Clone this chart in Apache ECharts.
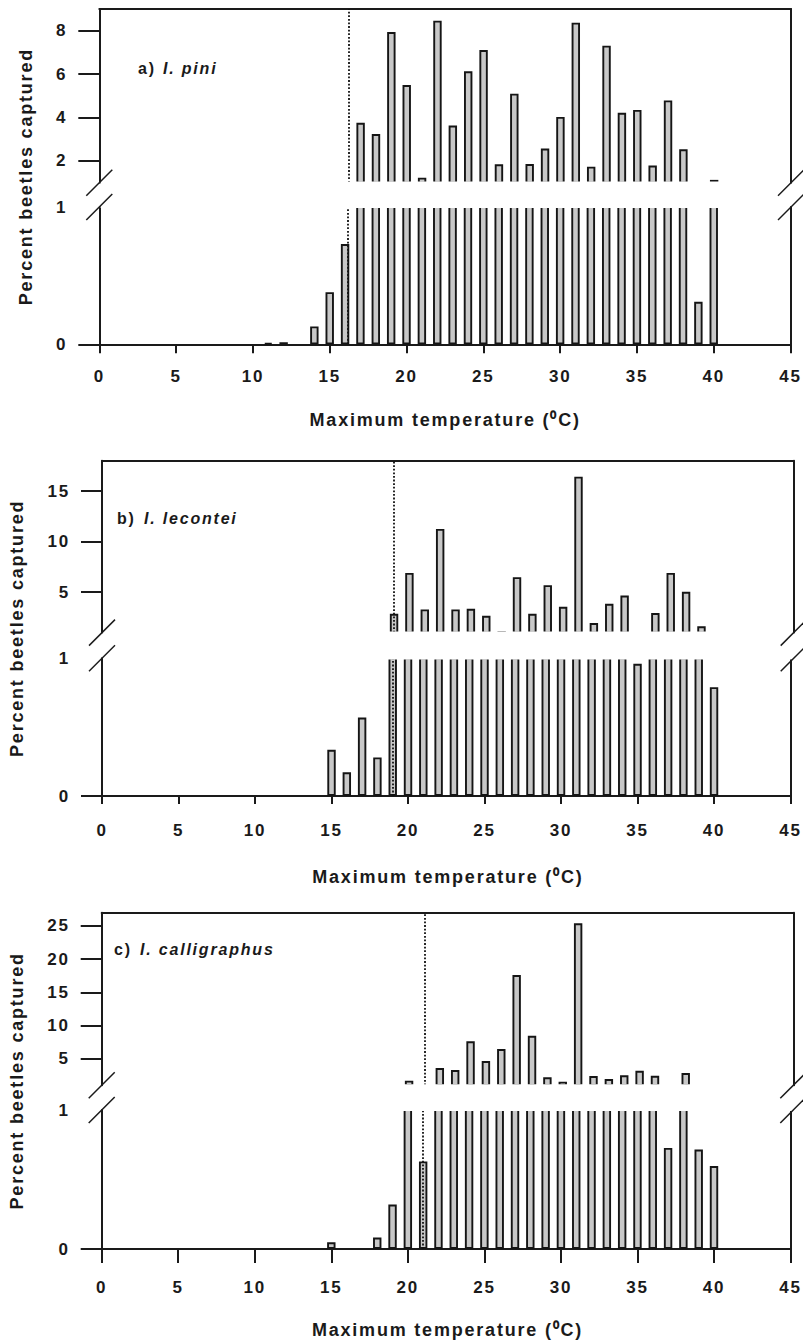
<!DOCTYPE html>
<html>
<head>
<meta charset="utf-8">
<title>Percent beetles captured by maximum temperature</title>
<script src="https://cdn.jsdelivr.net/npm/echarts@6.0.0/dist/echarts.min.js"></script>
<style>
  html, body { margin: 0; padding: 0; background: #fff; }
  #chart { width: 803px; height: 1344px; }
  /* the original figure uses widely spaced Helvetica-like lettering */
  #chart text { letter-spacing: 1.8px; }
</style>
</head>
<body>
<div id="chart"></div>
<script>
// maximum temperature classes (deg C), one bar per class
const temps = [11, 12, 13, 14, 15, 16, 17, 18, 19, 20,
               21, 22, 23, 24, 25, 26, 27, 28, 29, 30,
               31, 32, 33, 34, 35, 36, 37, 38, 39, 40];

// percent of beetles captured per class
const piniPercent = [0.01, 0.015, 0, 0.13, 0.38, 0.73, 3.76, 3.24, 7.94, 5.5,
                     1.23, 8.46, 3.63, 6.13, 7.11, 1.85, 5.1, 1.86, 2.57, 4.03,
                     8.37, 1.74, 7.31, 4.22, 4.35, 1.79, 4.79, 2.54, 0.31, 1.13];
const leconteiPercent = [0, 0, 0, 0, 0.335, 0.172, 0.57, 0.28, 2.86, 6.9,
                         3.29, 11.25, 3.29, 3.35, 2.66, 1.12, 6.48, 2.86, 5.69, 3.55,
                         16.42, 1.94, 3.85, 4.67, 0.96, 2.93, 6.9, 5.03, 1.62, 0.79];
const calligraphusPercent = [0, 0, 0, 0, 0.048, 0, 0, 0.082, 0.32, 1.69,
                             0.63, 3.6, 3.3, 7.62, 4.65, 6.46, 17.6, 8.46, 2.2, 1.54,
                             25.4, 2.4, 1.94, 2.5, 3.19, 2.44, 0.727, 2.85, 0.715, 0.597];

// flight threshold temperature (dotted line)
const thresholds = [16.2, 19, 21];

// axis ticks
const lowerTicks = [0, 1];
const piniUpperTicks = [2, 4, 6, 8];
const leconteiUpperTicks = [5, 10, 15];
const calligraphusUpperTicks = [5, 10, 15, 20, 25];
const upperMax = [9, 18, 27];

const panelTags = ['a)', 'b)', 'c)'];
const speciesNames = ['I. pini', 'I. lecontei', 'I. calligraphus'];
const xTitle = 'Maximum temperature (\u2070C)';
const yTitle = 'Percent beetles captured';

const seriesValues = [piniPercent, leconteiPercent, calligraphusPercent];
const upperTicks = [piniUpperTicks, leconteiUpperTicks, calligraphusUpperTicks];

// page layout of each panel (pixels)
const panels = [
  { left: 99.3, right: 791, upperTop: 9, upperBottom: 182.7, lowerTop: 207, lowerBottom: 344.3,
    xTickLen: 9, xLabelGap: 24, xTitleY: 420, yTitleX: 26, tagX: 138, tagY: 68, speciesDx: 25 },
  { left: 102, right: 793.7, upperTop: 460.7, upperBottom: 632.6, lowerTop: 658.3, lowerBottom: 796,
    xTickLen: 8, xLabelGap: 25.5, xTitleY: 876.5, yTitleX: 17, tagX: 117, tagY: 518, speciesDx: 27 },
  { left: 101.7, right: 793.3, upperTop: 912.7, upperBottom: 1085.3, lowerTop: 1110, lowerBottom: 1249,
    xTickLen: 14, xLabelGap: 29.5, xTitleY: 1330, yTitleX: 17, tagX: 114, tagY: 949, speciesDx: 26 }
];

const ink = '#1a1a1a';
const fontFamily = "'Liberation Sans', Arial, sans-serif";
const axisLine = { onZero: false, lineStyle: { color: ink, width: 2 } };
const tickLine = { color: ink, width: 2 };
const tickLabel = { color: ink, fontSize: 17, fontWeight: 'bold', fontFamily: fontFamily };
const barStyle = { color: '#c8c8c8', borderColor: '#151515', borderWidth: 1.9 };

const chart = echarts.init(document.getElementById('chart'), null, { renderer: 'svg' });

const grid = [], xAxis = [], yAxis = [], series = [], graphic = [];

function frameAxis(gridIndex, position) {
  return {
    type: 'value', gridIndex: gridIndex, position: position,
    axisLine: axisLine, axisTick: { show: false }, axisLabel: { show: false },
    splitLine: { show: false }
  };
}

function thresholdLine(t) {
  return {
    symbol: 'none', silent: true, label: { show: false },
    lineStyle: { color: '#111', width: 1.8, type: [1.8, 1.8] },
    data: [{ xAxis: t }]
  };
}

panels.forEach(function (p, i) {
  const width = p.right - p.left;
  const up = 2 * i, low = 2 * i + 1;
  const values = seriesValues[i];

  grid.push({ left: p.left, top: p.upperTop, width: width, height: p.upperBottom - p.upperTop });
  grid.push({ left: p.left, top: p.lowerTop, width: width, height: p.lowerBottom - p.lowerTop });

  // top frame line of upper part
  xAxis.push(Object.assign(frameAxis(up, 'top'), { min: 0, max: 45, interval: 5 }));
  // temperature axis
  xAxis.push({
    type: 'value', gridIndex: low, position: 'bottom', min: 0, max: 45, interval: 5,
    axisLine: axisLine,
    axisTick: { length: p.xTickLen, lineStyle: tickLine },
    axisLabel: Object.assign({ margin: p.xLabelGap }, tickLabel),
    splitLine: { show: false }
  });

  // upper part: 1 .. max
  yAxis.push({
    type: 'value', gridIndex: up, position: 'left', min: 1, max: upperMax[i],
    axisLine: axisLine,
    axisTick: { show: true, length: 21, customValues: upperTicks[i], lineStyle: tickLine },
    axisLabel: Object.assign({ margin: 32, customValues: upperTicks[i] }, tickLabel),
    splitLine: { show: false }
  });
  yAxis.push(Object.assign(frameAxis(up, 'right'), { min: 1, max: upperMax[i] }));
  // lower part: 0 .. 1
  yAxis.push({
    type: 'value', gridIndex: low, position: 'left', min: 0, max: 1, interval: 1,
    axisLine: axisLine,
    axisTick: { show: true, length: 21, customValues: [lowerTicks[0]], lineStyle: tickLine },
    axisLabel: Object.assign({ margin: 32, customValues: lowerTicks }, tickLabel),
    splitLine: { show: false }
  });
  yAxis.push(Object.assign(frameAxis(low, 'right'), { min: 0, max: 1 }));

  const upperData = [], lowerData = [];
  temps.forEach(function (t, k) {
    if (values[k] > 1) upperData.push([t, values[k]]);
    if (values[k] > 0) lowerData.push([t, values[k]]);
  });

  series.push({
    type: 'bar', xAxisIndex: up, yAxisIndex: 4 * i, data: upperData,
    barWidth: 8.4, clip: true, silent: true, itemStyle: barStyle,
    markLine: thresholdLine(thresholds[i])
  });
  series.push({
    type: 'bar', xAxisIndex: low, yAxisIndex: 4 * i + 2, data: lowerData,
    barWidth: 8.4, clip: true, silent: true, itemStyle: barStyle,
    markLine: thresholdLine(thresholds[i])
  });

  // white band of the axis break, hiding the cut ends of the bars
  graphic.push({
    type: 'rect', z: 50, silent: true,
    shape: { x: p.left + 1.3, y: p.upperBottom - 1.1, width: width - 2.6, height: p.lowerTop - p.upperBottom + 2.2 },
    style: { fill: '#fff' }
  });
  // break marks on both vertical axes
  [p.left, p.right].forEach(function (x) {
    [p.upperBottom, p.lowerTop].forEach(function (y) {
      graphic.push({
        type: 'line', z: 51, silent: true,
        shape: { x1: x - 13, y1: y + 13, x2: x + 13, y2: y - 13 },
        style: { stroke: ink, lineWidth: 1.5 }
      });
    });
  });

  graphic.push({
    type: 'text', z: 51, silent: true, x: (p.left + p.right) / 2, y: p.xTitleY,
    style: { text: xTitle, fill: ink, fontSize: 18, fontWeight: 'bold', fontFamily: fontFamily,
             align: 'center', verticalAlign: 'middle', textAlign: 'center', textVerticalAlign: 'middle' }
  });
  graphic.push({
    type: 'text', z: 51, silent: true, x: p.yTitleX, y: (p.upperTop + p.lowerBottom) / 2,
    rotation: Math.PI / 2,
    style: { text: yTitle, fill: ink, fontSize: 18, fontWeight: 'bold', fontFamily: fontFamily,
             align: 'center', verticalAlign: 'middle', textAlign: 'center', textVerticalAlign: 'middle' }
  });
  graphic.push({
    type: 'text', z: 51, silent: true, x: p.tagX, y: p.tagY,
    style: { text: panelTags[i], fill: ink, fontSize: 16, fontWeight: 'bold', fontFamily: fontFamily,
             align: 'left', verticalAlign: 'middle', textAlign: 'left', textVerticalAlign: 'middle' }
  });
  graphic.push({
    type: 'text', z: 51, silent: true, x: p.tagX + p.speciesDx, y: p.tagY,
    style: { text: speciesNames[i], fill: ink, fontSize: 16, fontWeight: 'bold', fontStyle: 'italic',
             fontFamily: fontFamily,
             align: 'left', verticalAlign: 'middle', textAlign: 'left', textVerticalAlign: 'middle' }
  });
});

chart.setOption({
  animation: false,
  backgroundColor: '#fff',
  grid: grid,
  xAxis: xAxis,
  yAxis: yAxis,
  series: series,
  graphic: graphic
});
</script>
</body>
</html>
